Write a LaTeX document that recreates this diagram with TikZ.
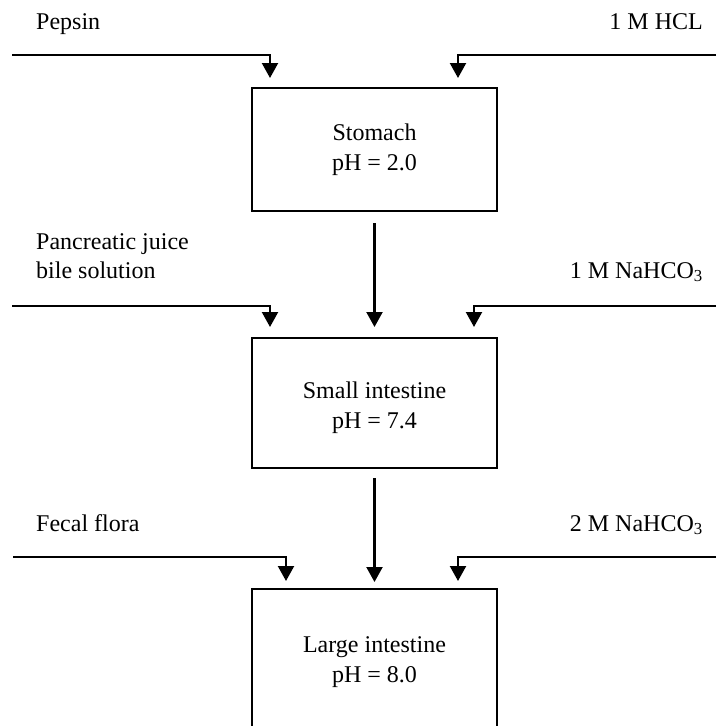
\documentclass[tikz,border=0pt]{standalone}
\usepackage{fontspec}
\setmainfont{Liberation Serif}
\usetikzlibrary{positioning, arrows.meta, calc}
\tikzset{
  organ/.style={
    rectangle,
    draw=black, line width=2pt,
    minimum width=245pt,
    inner sep=0pt,
    align=center,
    font=\fontsize{24}{29.5}\selectfont
  },
  source/.style={
    inner sep=0pt,
    align=left,
    font=\fontsize{24}{28.5}\selectfont
  },
  arrow/.style={
    draw=black,
    line width=2.2pt,
    ->,
    >={Triangle[width=16pt,length=15pt]}
  }
}

\begin{document}
\begin{tikzpicture}[x=1pt, y=-1pt]
% Digestion model: stomach -> small intestine -> large intestine
\useasboundingbox (0,0) rectangle (716,726);

% nodes
\node[organ, minimum height=123pt] (stomach) at (374.5,149.5) {Stomach\\pH = 2.0};
\node[organ, minimum height=130pt] (small) at (374.5,403) {\rule{0pt}{26pt}Small intestine\\pH = 7.4};
\node[organ, minimum height=146pt] (large) at (374.5,662) {Large intestine\\pH = 8.0};

\node[source, anchor=base west] (pepsin) at (36,29) {Pepsin};
\node[source, anchor=base east] (hcl) at (703,29) {1 M HCL};
\node[source, anchor=west] (juice) at (36,256) {Pancreatic juice\\bile solution};
\node[source, anchor=base east] (bicarb1) at (703,278) {1 M NaHCO\textsubscript{3}};
\node[source, anchor=base west] (flora) at (36,531) {Fecal flora};
\node[source, anchor=base east] (bicarb2) at (703,531) {2 M NaHCO\textsubscript{3}};

% free ends of the feed lines
\coordinate (pepsinIn) at (12,55);
\coordinate (hclIn) at (716,55);
\coordinate (juiceIn) at (12,306);
\coordinate (bicarb1In) at (716,306);
\coordinate (floraIn) at (13,557);
\coordinate (bicarb2In) at (716,557);

% edges

%% stomach
\draw [arrow, shorten >=9pt] (pepsinIn) -| ([xshift=19pt]stomach.north west);
\draw [arrow, shorten >=9pt] (hclIn) -| ([xshift=-40pt]stomach.north east);
\draw [arrow, shorten <=11pt, shorten >=10pt] (stomach.south) -- (small.north);

%% small intestine
\draw [arrow, shorten >=10pt] (juiceIn) -| ([xshift=19pt]small.north west);
\draw [arrow, shorten >=10pt] (bicarb1In) -| ([xshift=-24pt]small.north east);
\draw [arrow, shorten <=9pt, shorten >=6pt] (small.south) -- (large.north);

%% large intestine
\draw [arrow, shorten >=7pt] (floraIn) -| ([xshift=35pt]large.north west);
\draw [arrow, shorten >=7pt] (bicarb2In) -| ([xshift=-40pt]large.north east);

\end{tikzpicture}
\end{document}
